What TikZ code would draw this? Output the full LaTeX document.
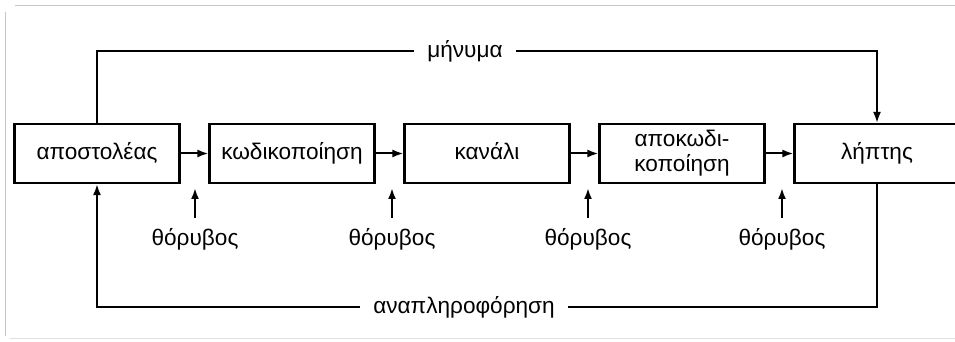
\documentclass[tikz,border=0pt]{standalone}
\usepackage{fontspec}
\setmainfont{Liberation Sans}
\usetikzlibrary{arrows.meta}

\begin{document}
\begin{tikzpicture}[
  x=0.5pt, y=-0.5pt, % one unit per pixel of the scan, y going down
  >={Latex[length=5.5pt,width=4pt]},
  every node/.style={font=\fontsize{11.3}{12.5}\selectfont},
  stage/.style={rectangle, draw=black, line width=1.1pt, fill=white, minimum width=82.5pt, minimum height=29.5pt, inner sep=0pt, align=center}, % the five boxes
  oneline/.style={text height=8pt, text depth=2.3pt}, % same baseline in every one-line box
  link/.style={->, line width=1pt}, % arrows between boxes
  noise/.style={inner xsep=2pt, inner ysep=5pt}, % noise labels
  loop/.style={inner xsep=6.5pt, inner ysep=2pt} % labels on the long lines
]

\useasboundingbox (0,0) rectangle (955,342);

% page edges of the scan
\draw[gray!45, line width=0.5pt] (15,6) -- (955,6);
\draw[gray!45, line width=0.5pt] (5,12) -- (5,336);
\draw[gray!25, line width=0.5pt] (10,339) -- (955,339);

% boxes
\node[stage, oneline] (send) at (97,153.5) {αποστολέας};
\node[stage, oneline] (enc)  at (292,153.5) {κωδικοποίηση};
\node[stage, oneline] (chan) at (487,153.5) {κανάλι};
\node[stage] (dec)  at (682,153.5) {αποκωδι-\\κοποίηση};
\node[stage, oneline] (recv) at (877,153.5) {λήπτης};

% main chain
\draw[link] (send) -- (enc);
\draw[link] (enc) -- (chan);
\draw[link] (chan) -- (dec);
\draw[link] (dec) -- (recv);

% noise
\node[noise, anchor=north] (n1) at (195,218) {θόρυβος};
\node[noise, anchor=north] (n2) at (392,218) {θόρυβος};
\node[noise, anchor=north] (n3) at (588,218) {θόρυβος};
\node[noise, anchor=north] (n4) at (782,218) {θόρυβος};
\draw[link] (n1.north) -- ++(0,-30);
\draw[link] (n2.north) -- ++(0,-30);
\draw[link] (n3.north) -- ++(0,-30);
\draw[link] (n4.north) -- ++(0,-30);

% message on top
\node[loop] (msg) at (465,51) {μήνυμα};
\draw[line width=1pt] (send.north) |- (msg.west);
\draw[link] (msg.east) -| (recv.north);

% feedback at the bottom
\node[loop] (fb) at (464,307) {αναπληροφόρηση};
\draw[line width=1pt] (recv.south) |- (fb.east);
\draw[link] (fb.west) -| (send.south);

\end{tikzpicture}
\end{document}
